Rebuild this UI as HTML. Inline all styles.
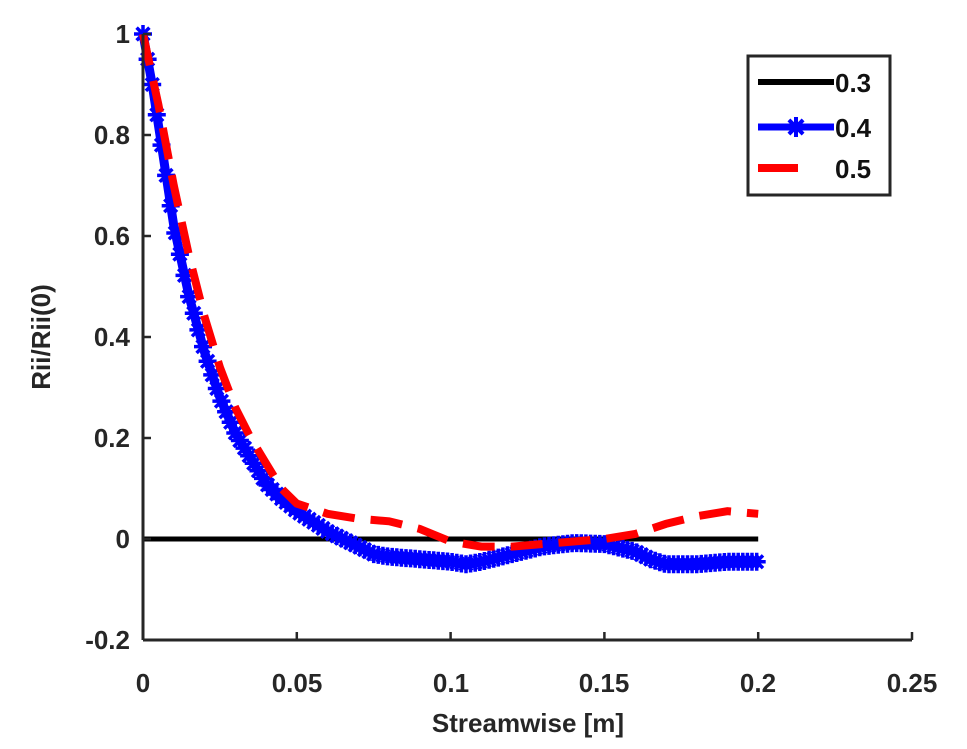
<!DOCTYPE html>
<html><head><meta charset="utf-8"><style>
html,body{margin:0;padding:0;background:#fff;}
svg{display:block;font-family:"Liberation Sans",sans-serif;font-weight:bold;}
</style></head><body>
<svg id="s" width="967" height="749" viewBox="0 0 967 749" xmlns="http://www.w3.org/2000/svg">
<rect width="967" height="749" fill="#fff"/>
<g id="plot"></g>
<g stroke="#262626" stroke-width="3" fill="none">
<line x1="143" y1="34" x2="143" y2="640"/>
<line x1="143" y1="640" x2="912" y2="640"/>
</g>
<g id="ticks" stroke="#262626" stroke-width="2.5"></g>
<g font-size="26" fill="#262626" text-anchor="end">
<text x="130" y="43">1</text>
<text x="130" y="144">0.8</text>
<text x="130" y="245">0.6</text>
<text x="130" y="346">0.4</text>
<text x="130" y="447">0.2</text>
<text x="130" y="548">0</text>
<text x="130" y="649">-0.2</text>
</g>
<g font-size="26" fill="#262626" text-anchor="middle">
<text x="143" y="692">0</text>
<text x="297" y="692">0.05</text>
<text x="451" y="692">0.1</text>
<text x="604" y="692">0.15</text>
<text x="758" y="692">0.2</text>
<text x="912" y="692">0.25</text>
<text x="528" y="732" font-size="26">Streamwise [m]</text>
<text transform="translate(50,337) rotate(-90)" font-size="26">Rii/Rii(0)</text>
</g>
<rect x="748" y="56" width="142" height="139" fill="#fff" stroke="#262626" stroke-width="3"/>
<line x1="758" y1="82" x2="834" y2="82" stroke="#000" stroke-width="6"/>
<line x1="758" y1="127" x2="834" y2="127" stroke="#0000ff" stroke-width="7"/>
<g id="lm"></g>
<line x1="758" y1="168" x2="798" y2="168" stroke="#ff0000" stroke-width="8"/>
<g font-size="26" fill="#111">
<text x="835" y="92">0.3</text>
<text x="835" y="137">0.4</text>
<text x="835" y="178">0.5</text>
</g>
</svg>
<script>
const X=x=>143+x*3076, Y=y=>539-y*505;
const blue=[[0,1],[0.003,0.9],[0.006,0.78],[0.01,0.62],[0.015,0.48],[0.02,0.37],[0.025,0.28],[0.03,0.21],[0.035,0.16],[0.04,0.11],[0.045,0.08],[0.05,0.055],[0.055,0.035],[0.06,0.015],[0.065,0],[0.07,-0.015],[0.075,-0.03],[0.08,-0.035],[0.09,-0.04],[0.1,-0.045],[0.105,-0.05],[0.11,-0.045],[0.12,-0.03],[0.13,-0.015],[0.14,-0.008],[0.15,-0.01],[0.16,-0.025],[0.165,-0.04],[0.17,-0.05],[0.18,-0.05],[0.19,-0.045],[0.2,-0.045]];
const red=[[0,1],[0.005,0.86],[0.01,0.7],[0.015,0.56],[0.02,0.44],[0.025,0.34],[0.03,0.26],[0.035,0.2],[0.04,0.15],[0.045,0.1],[0.05,0.07],[0.055,0.06],[0.06,0.05],[0.07,0.04],[0.08,0.035],[0.09,0.02],[0.1,-0.005],[0.11,-0.015],[0.12,-0.015],[0.13,-0.01],[0.14,-0.005],[0.15,0],[0.16,0.01],[0.17,0.03],[0.18,0.045],[0.19,0.055],[0.2,0.05]];
const pts=a=>a.map(p=>X(p[0]).toFixed(1)+","+Y(p[1]).toFixed(1)).join(" ");
function interp(a,x){for(let i=1;i<a.length;i++){if(x<=a[i][0]){const t=(x-a[i-1][0])/(a[i][0]-a[i-1][0]);return a[i-1][1]+t*(a[i][1]-a[i-1][1]);}}return a[a.length-1][1];}
function star(cx,cy,r){let d="";for(let k=0;k<4;k++){const an=k*Math.PI/4,dx=r*Math.cos(an),dy=r*Math.sin(an);d+=`M${(cx-dx).toFixed(1)},${(cy-dy).toFixed(1)}L${(cx+dx).toFixed(1)},${(cy+dy).toFixed(1)}`;}return d;}
let h=`<line x1="${X(0)}" y1="${Y(0)}" x2="${X(0.2)}" y2="${Y(0)}" stroke="#000" stroke-width="5"/>`;
h+=`<polyline points="${pts(blue)}" fill="none" stroke="#0000ff" stroke-width="9" stroke-linejoin="round"/>`;
let d="";for(let x=0;x<=0.2001;x+=0.0015){d+=star(X(x),Y(interp(blue,x)),9);}
h+=`<path d="${d}" stroke="#0000ff" stroke-width="3.5" fill="none"/>`;
h+=`<polyline points="${pts(red)}" fill="none" stroke="#ff0000" stroke-width="8" stroke-dasharray="32 16"/>`;
document.getElementById("plot").innerHTML=h;
document.getElementById("lm").innerHTML=`<path d="${star(796,127,10)}" stroke="#0000ff" stroke-width="4"/>`;
let t="";
[1,0.8,0.6,0.4,0.2,0,-0.2].forEach(v=>{t+=`<line x1="143" y1="${Y(v)}" x2="151" y2="${Y(v)}"/>`;});
[0,0.05,0.1,0.15,0.2,0.25].forEach(v=>{t+=`<line x1="${X(v)}" y1="640" x2="${X(v)}" y2="632"/>`;});
document.getElementById("ticks").innerHTML=t;
</script>
</body></html>
